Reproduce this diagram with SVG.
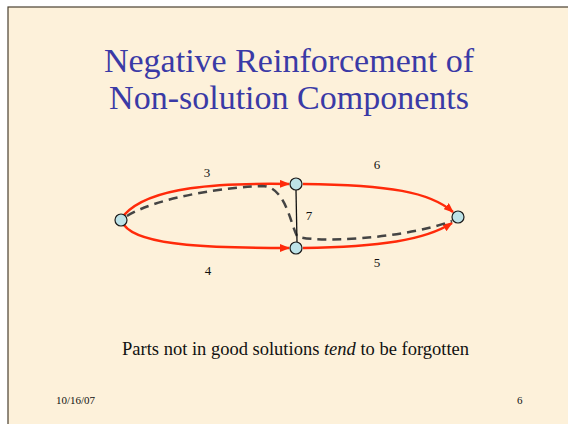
<svg xmlns="http://www.w3.org/2000/svg" width="568" height="424" viewBox="0 0 568 424">
<defs>
<style>
.t{fill:#111}
.title{fill:#3A3AA6;font-size:34px;text-anchor:middle}
.lbl{font-size:13px;text-anchor:middle}
.red{fill:none;stroke:#FF2A0A;stroke-width:2.5;marker-end:url(#ah)}
.dash{fill:none;stroke:#444;stroke-width:2.5;stroke-dasharray:9,6}
.node{fill:#BDE3E8;stroke:#1A1A1A;stroke-width:1.2}
</style>
<marker id="ah" markerWidth="10" markerHeight="8" refX="9" refY="4" orient="auto" markerUnits="userSpaceOnUse">
<path d="M0,0 L10,4 L0,8 Z" fill="#FF2A0A"/>
</marker>
</defs>
<rect width="568" height="424" fill="#fff"/>
<rect x="8" y="7" width="562" height="420" fill="#FDF1DA" stroke="#4A4030" stroke-width="1.2"/>
<text class="title" x="289" y="72" style="font-family:'Liberation Serif',serif !important">Negative Reinforcement of</text>
<text class="title" x="289" y="109" style="font-family:'Liberation Serif',serif !important">Non-solution Components</text>
<g id="connectors">
<path class="red" d="M124,215 C150,186 220,183 289,184"/>
<path class="red" d="M124,225 C140,247 220,248 289,248"/>
<path class="red" d="M303,184 C390,185 430,192 453,212"/>
<path class="red" d="M303,248 C380,247 425,240 452,223"/>
<path class="dash" d="M127,216 C160,196 230,187 262,186 C285,186 290,222 297,236 C310,243 400,240 452,221"/>
<line x1="296" y1="190" x2="297" y2="242" stroke="#111" stroke-width="1.3"/>
</g>
<g id="n1"><circle class="node" cx="121" cy="220" r="6"/></g>
<g id="n2"><circle class="node" cx="296" cy="184" r="6"/></g>
<g id="n3"><circle class="node" cx="296" cy="248" r="6"/></g>
<g id="n4"><circle class="node" cx="458" cy="217" r="6"/></g>
<g id="labels">
<text class="t lbl" x="207" y="177" style="font-family:'Liberation Serif',serif !important">3</text>
<text class="t lbl" x="208" y="275" style="font-family:'Liberation Serif',serif !important">4</text>
<text class="t lbl" x="377" y="169" style="font-family:'Liberation Serif',serif !important">6</text>
<text class="t lbl" x="377" y="267" style="font-family:'Liberation Serif',serif !important">5</text>
<text class="t lbl" x="309" y="220" style="font-family:'Liberation Serif',serif !important">7</text>
</g>
<text class="t" x="122" y="355" font-size="18.5" style="font-family:'Liberation Serif',serif !important">Parts not in good solutions <tspan font-style="italic">tend</tspan> to be forgotten</text>
<text class="t" x="56" y="404" font-size="11" style="font-family:'Liberation Serif',serif !important">10/16/07</text>
<text class="t" x="517" y="404" font-size="11" style="font-family:'Liberation Serif',serif !important">6</text>
</svg>
